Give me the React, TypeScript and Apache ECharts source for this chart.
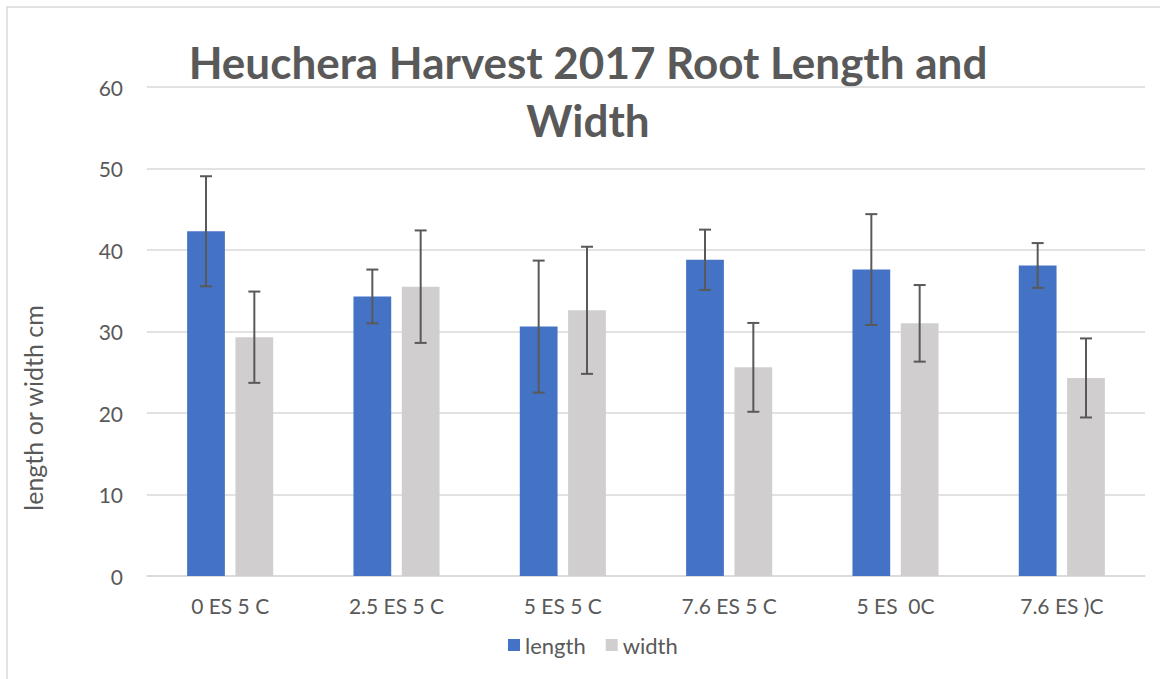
import React, { useEffect, useRef } from "react";
import * as echarts from "echarts";

const categories = ["0 ES 5 C", "2.5 ES 5 C", "5 ES 5 C", "7.6 ES 5 C", "5 ES  0C", "7.6 ES )C"];
const lengthValues = [42.3, 34.3, 30.6, 38.8, 37.6, 38.1];
const lengthErrors = [6.75, 3.3, 8.1, 3.7, 6.8, 2.75];
const widthValues = [29.3, 35.5, 32.6, 25.6, 31.0, 24.3];
const widthErrors = [5.6, 6.9, 7.8, 5.45, 4.7, 4.85];
const yTicks = { min: 0, max: 60, interval: 10 };
const titleLines = ["Heuchera Harvest 2017 Root Length and", "Width"];
const yAxisTitle = "length or width cm";
const seriesNames = ["length", "width"];

const FONT = "Lato, 'Open Sans', sans-serif";
const TEXT = "#595959";
const BAR_W = 0.227;
const GAP = 0.28;

function errorSeries(name: string, values: number[], errors: number[], side: number) {
  return {
    type: "custom",
    name: name + "-err",
    silent: true,
    z: 5,
    encode: { x: 0, y: [1, 2] },
    data: values.map((v, i) => [i, v - errors[i], v + errors[i]]),
    renderItem: (params: any, api: any) => {
      const xi = api.value(0);
      const lo = api.coord([xi, api.value(1)]);
      const hi = api.coord([xi, api.value(2)]);
      const band = api.size([1, 0])[0];
      const bw = band * BAR_W;
      const off = ((bw + bw * GAP) / 2) * side;
      const x = lo[0] + off;
      const cap = 6;
      const style = { stroke: "#595959", lineWidth: 2 };
      return {
        type: "group",
        children: [
          { type: "line", shape: { x1: x, y1: hi[1], x2: x, y2: lo[1] }, style },
          { type: "line", shape: { x1: x - cap, y1: hi[1], x2: x + cap, y2: hi[1] }, style },
          { type: "line", shape: { x1: x - cap, y1: lo[1], x2: x + cap, y2: lo[1] }, style },
        ],
      };
    },
  };
}

export default function App() {
  const ref = useRef<HTMLDivElement>(null);
  useEffect(() => {
    document.body.style.margin = "0";
    const chart = echarts.init(ref.current!, null, { renderer: "svg" });
    chart.setOption({
      animation: false,
      backgroundColor: "#ffffff",
      grid: { left: 147, right: 15, top: 87, bottom: 103, containLabel: false },
      legend: {
        data: seriesNames,
        left: 503,
        top: 629,
        icon: "rect",
        itemWidth: 12,
        itemHeight: 12,
        itemGap: 20,
        textStyle: { fontFamily: FONT, fontSize: 22, color: TEXT },
      },
      xAxis: {
        type: "category",
        data: categories,
        axisLine: { show: true, lineStyle: { color: "#d9d9d9", width: 1.5 } },
        axisTick: { show: false },
        axisLabel: { fontFamily: FONT, fontSize: 21, color: TEXT, margin: 19 },
      },
      yAxis: {
        type: "value",
        min: yTicks.min,
        max: yTicks.max,
        interval: yTicks.interval,
        axisLine: { show: false },
        axisTick: { show: false },
        axisLabel: { fontFamily: FONT, fontSize: 21, color: TEXT, margin: 24 },
        splitLine: { lineStyle: { color: "#d9d9d9", width: 1.5 } },
      },
      series: [
        {
          type: "bar",
          name: seriesNames[0],
          data: lengthValues,
          barWidth: BAR_W * 100 + "%",
          barGap: GAP * 100 + "%",
          itemStyle: { color: "#4472C4" },
        },
        {
          type: "bar",
          name: seriesNames[1],
          data: widthValues,
          barWidth: BAR_W * 100 + "%",
          barGap: GAP * 100 + "%",
          itemStyle: { color: "#D0CECE" },
        },
        errorSeries(seriesNames[0], lengthValues, lengthErrors, -1),
        errorSeries(seriesNames[1], widthValues, widthErrors, 1),
      ],
      graphic: [
        {
          type: "rect",
          shape: { x: 7, y: 7, width: 1300, height: 800 },
          style: { fill: "none", stroke: "#d9d9d9", lineWidth: 1.5 },
          silent: true,
        },
        {
          type: "text",
          x: 588,
          y: 62,
          style: {
            text: titleLines[0],
            fontFamily: FONT,
            fontWeight: "bold",
            fontSize: 44,
            fill: TEXT,
            align: "center",
            verticalAlign: "middle",
          },
        },
        {
          type: "text",
          x: 588,
          y: 120,
          style: {
            text: titleLines[1],
            fontFamily: FONT,
            fontWeight: "bold",
            fontSize: 44,
            fill: TEXT,
            align: "center",
            verticalAlign: "middle",
          },
        },
        {
          type: "text",
          x: 33,
          y: 408,
          rotation: Math.PI / 2,
          style: {
            text: yAxisTitle,
            fontFamily: FONT,
            fontSize: 25,
            fill: TEXT,
            align: "center",
            verticalAlign: "middle",
          },
        },
      ],
    });
    return () => chart.dispose();
  }, []);
  return <div ref={ref} style={{ width: 1160, height: 679 }} />;
}
